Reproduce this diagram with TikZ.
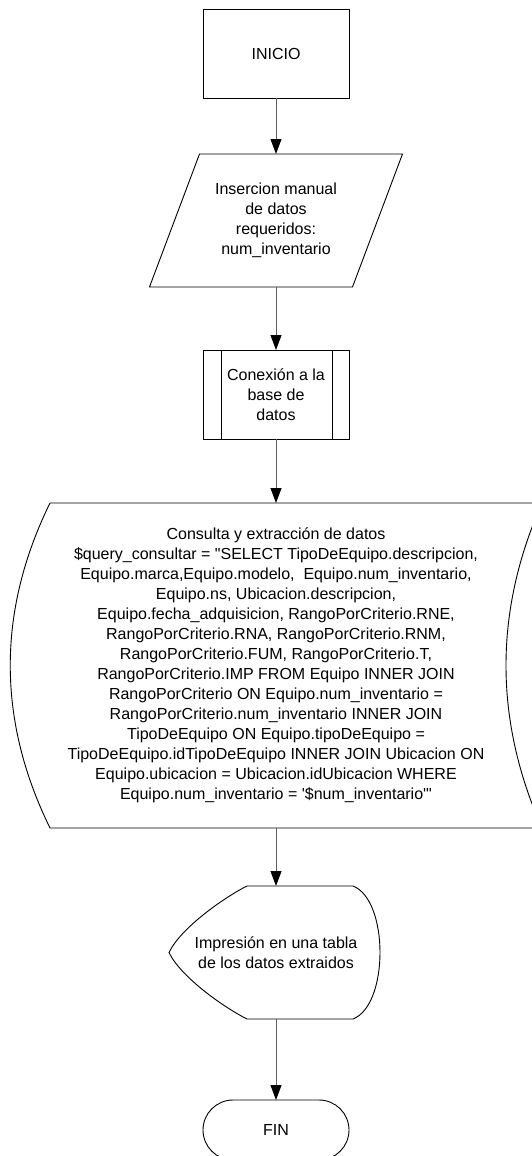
\documentclass[tikz,border=0pt]{standalone}
\usepackage{fontspec}
\setmainfont{Liberation Sans}
\usepackage{tikz}
\usetikzlibrary{calc, arrows.meta}
\definecolor{gris}{RGB}{96,96,96}

\begin{document}
\begin{tikzpicture}[x=1pt, y=-1pt, line width=.9pt,
  every node/.style={font=\fontsize{16}{20}\selectfont, align=center, inner sep=0pt, outer sep=0pt},
  caja/.style={draw, minimum width=146pt, minimum height=89pt},
  flecha/.style={gris, -{Triangle[length=15pt, width=11pt, color=black]}}]
\useasboundingbox (0,0) rectangle (532,1156);

\node[caja] (inicio) at (276,53.5) {INICIO};

\node[minimum width=253pt, minimum height=133pt] (datos) at (276,220.5) {Insercion manual\\de datos\\requeridos:\\num\_inventario};
\draw ($(datos.north west)+(50,0)$)--(datos.north east)--($(datos.south east)+(-50,0)$)--(datos.south west)--cycle;

\node[caja] (conexion) at (276,394.5) {Conexión a la\\base de\\datos};
\draw ([xshift=18pt]conexion.north west)--([xshift=18pt]conexion.south west);
\draw ([xshift=-17pt]conexion.north east)--([xshift=-17pt]conexion.south east);

\node[minimum width=532pt, minimum height=325pt] (consulta) at (276,665.5) {Consulta y extracción de datos\\
\$query\_consultar = \textquotedbl SELECT TipoDeEquipo.descripcion,\\
Equipo.marca,Equipo.modelo,\ \ Equipo.num\_inventario,\\
Equipo.ns, Ubicacion.descripcion,\\
Equipo.fecha\_adquisicion, RangoPorCriterio.RNE,\\
RangoPorCriterio.RNA, RangoPorCriterio.RNM,\\
RangoPorCriterio.FUM, RangoPorCriterio.T,\\
RangoPorCriterio.IMP FROM Equipo INNER JOIN\\
RangoPorCriterio ON Equipo.num\_inventario =\\
RangoPorCriterio.num\_inventario INNER JOIN\\
TipoDeEquipo ON Equipo.tipoDeEquipo =\\
TipoDeEquipo.idTipoDeEquipo INNER JOIN Ubicacion ON\\
Equipo.ubicacion = Ubicacion.idUbicacion WHERE\\
Equipo.num\_inventario = \textquotesingle\$num\_inventario\textquotesingle\textquotedbl};
\draw ($(consulta.north west)+(40,0)$)--(consulta.north east)
  .. controls ($(consulta.north east)+(-48,108)$) and ($(consulta.south east)+(-48,-108)$) .. (consulta.south east)
  --($(consulta.south west)+(40,0)$)
  .. controls ($(consulta.south west)+(-13,-108)$) and ($(consulta.north west)+(-13,108)$) .. ($(consulta.north west)+(40,0)$);

\node[minimum width=214pt, minimum height=133pt] (impresion) at (276,952.5) {Impresión en una tabla\\de los datos extraidos};
\draw ($(impresion.north west)+(78,0)$)
  .. controls ($(impresion.north west)+(56,11)$) and ($(impresion.west)+(12,-25)$) .. (impresion.west)
  .. controls ($(impresion.west)+(12,25)$) and ($(impresion.south west)+(56,-11)$) .. ($(impresion.south west)+(78,0)$)
  --($(impresion.south east)+(-30,0)$)
  .. controls ($(impresion.south east)+(6,-14)$) and ($(impresion.north east)+(6,14)$) .. ($(impresion.north east)+(-30,0)$)
  --cycle;

\node[draw, rounded corners=30pt, minimum width=146pt, minimum height=60pt] (fin) at (276,1130) {FIN};

\draw[flecha] (inicio.south)--(datos.north);
\draw[flecha] (datos.south)--(conexion.north);
\draw[flecha] (conexion.south)--(consulta.north);
\draw[flecha] (consulta.south)--(impresion.north);
\draw[flecha] (impresion.south)--(fin.north);
\end{tikzpicture}
\end{document}
